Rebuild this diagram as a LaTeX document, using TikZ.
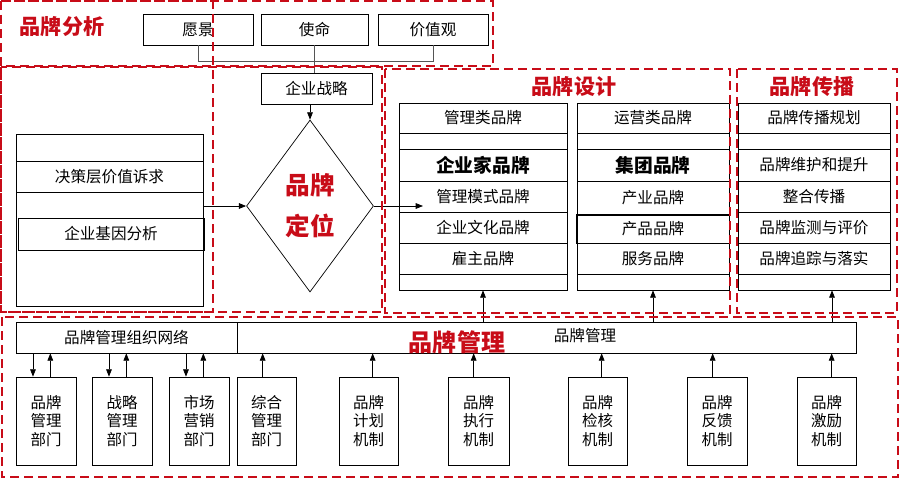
\documentclass[tikz,border=0pt]{standalone}
\usepackage{fontspec}
\setmainfont{Noto Sans CJK SC}
\usetikzlibrary{arrows.meta,positioning,shapes.geometric}
\definecolor{brandred}{RGB}{200,12,24}
\definecolor{wire}{RGB}{85,85,85}
\tikzset{
  >={Triangle[length=2.2mm,width=1.7mm]},
  zone/.style={draw=brandred,line width=1.8pt,dash pattern=on 2.6mm off 1.6mm},
  span/.style args={#1/#2/#3/#4}{at={({(#1+#3)/2},{(#2+#4)/2})},
    minimum width={(#3-#1)*0.3mm},minimum height={(#4-#2)*0.3mm}},
  cell/.style={draw=black,line width=0.6pt,inner sep=0pt,font=\fontsize{13.3}{15}\selectfont},
  unit/.style={cell,align=center,font=\fontsize{13.2}{16}\selectfont},
  title/.style={text=brandred,font=\fontsize{18}{20}\selectfont\bfseries},
  flow/.style={->,draw=black,line width=0.6pt},
  link/.style={draw=wire,line width=0.8pt},
}
\begin{document}
\begin{tikzpicture}[x=0.03cm,y=-0.03cm]
\useasboundingbox (0,0) rectangle (900,478);
% analysis
\node[cell,span=143/14/253/45] (vision) {愿景};
\node[cell,span=261/14/368/45] (mission) {使命};
\node[cell,span=378/14/488/45] (values) {价值观};
\node[cell,span=261/73/372/104] (strategy) {企业战略};
\draw[link] (vision.south) -- ++(0,16) -| (values.south);
\draw[link] (mission.south) -- (mission.south |- strategy.north);
\node[cell,span=16/134/203/306] (base) {};
\node[cell,span=16/161/203/192] (appeal) {决策层价值诉求};
\node[cell,span=18/218/204/250] (gene) {企业基因分析};
\node[diamond,draw,line width=0.6pt,minimum width=3.81cm,minimum height=5.16cm,inner sep=0pt,
  align=center,text=brandred,font=\fontsize{21}{35}\selectfont\bfseries] (pos) at (310,206) {品牌\\定位};
\draw[flow] (pos.north |- strategy.south) -- (pos.north);
\draw[flow] (pos.west -| base.east) -- (pos.west);
\coordinate (modeend) at (423,206);
\draw[flow] (pos.east) -- (modeend);
% design
\foreach \n/\ya/\yb/\t in {1/103/133/管理类品牌,2/133/149/,3/149/181/{\bfseries\fontsize{16}{18}\selectfont 企业家品牌},
    4/181/212/管理模式品牌,5/212/243/企业文化品牌,6/243/274/雇主品牌,7/274/290/}
  \node[cell,span=399/\ya/567/\yb] (brandA\n) {\t};
\foreach \n/\ya/\yb/\t in {1/103/133/运营类品牌,2/133/149/,3/149/181/{\bfseries\fontsize{16}{18}\selectfont 集团品牌},
    4/181/215/产业品牌,5/215/243/产品品牌,6/243/274/服务品牌,7/274/290/}
  \node[cell,span=577/\ya/729/\yb] (brandB\n) {\t};
\draw[line width=1.1pt] (brandB5.north west) rectangle (brandB5.south east);
% spread
\foreach \n/\ya/\yb/\t in {1/103/133/品牌传播规划,2/133/149/,3/149/181/品牌维护和提升,
    4/181/212/整合传播,5/212/243/品牌监测与评价,6/243/274/品牌追踪与落实,7/274/290/}
  \node[cell,span=738/\ya/890/\yb] (spread\n) {\t};
% management
\node[cell,span=16/322/237/353] (org) {品牌管理组织网络};
\node[cell,span=237/322/856/353] (mgmt) {};
\node[font=\fontsize{13.3}{15}\selectfont] (mgmtname) at (585,336) {品牌管理};
\foreach \n/\l/\r/\t in {deptA/16/76/品牌\\管理\\部门,deptB/92/152/战略\\管理\\部门,deptC/169/229/市场\\营销\\部门,
    deptD/237/296/综合\\管理\\部门,mechA/339/398/品牌\\计划\\机制,mechB/448/509/品牌\\执行\\机制,
    mechC/568/627/品牌\\检核\\机制,mechD/687/747/品牌\\反馈\\机制,mechE/797/856/品牌\\激励\\机制}
  \node[unit,span=\l/377/\r/465] (\n) {\t};
\foreach \n in {deptA,deptB,deptC}{
  \coordinate (\n dn) at ([xshift=5.2mm]\n.north west);
  \coordinate (\n up) at ([xshift=10.4mm]\n.north west);
  \draw[flow] (\n dn |- org.south) -- (\n dn);
  \draw[flow] (\n up) -- (\n up |- org.south);
}
\foreach \n/\o in {deptD/26,mechA/34,mechB/26,mechC/34,mechD/26,mechE/35}{
  \coordinate (\n up) at ([xshift=\o*0.3mm]\n.north west);
  \draw[flow] (\n up) -- (\n up |- mgmt.south);
}
\draw[flow] (brandA7.south |- mgmt.north) -- (brandA7.south);
\draw[flow] (brandB7.south |- mgmt.north) -- (brandB7.south);
\coordinate (spreadin) at ([xshift=5.4mm]spread7.south);
\draw[flow] (spreadin |- mgmt.north) -- (spreadin);
% zones
\draw[zone] (1,1) rectangle (493,66);
\draw[zone] (1,1) rectangle (213,312);
\draw[zone] (1,67) rectangle (382,312);
\draw[zone] (385,69) rectangle (730,313);
\draw[zone] (737,69) rectangle (897,313);
\draw[zone] (2,317) rectangle (898,477);
\node[title] (analysis) at (62,27) {品牌分析};
\node[title] (design) at (574,87) {品牌设计};
\node[title] (spread) at (812,87) {品牌传播};
\node[title,font=\fontsize{20.5}{22}\selectfont\bfseries] (manage) at (457,342) {品牌管理};
\end{tikzpicture}
\end{document}
